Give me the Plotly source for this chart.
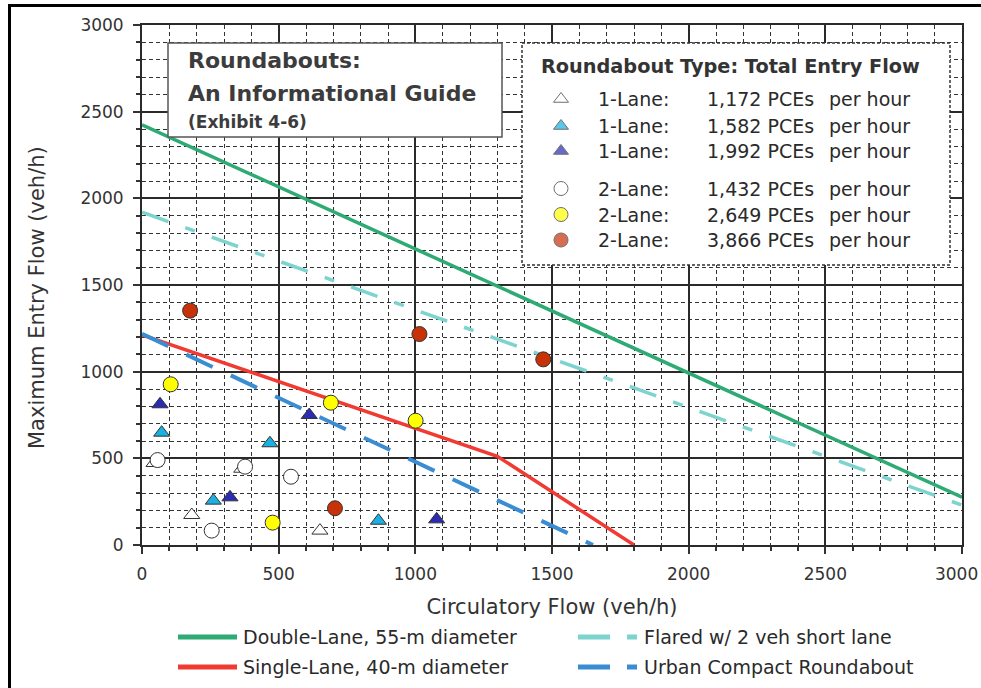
import plotly.graph_objects as go

# ---------------- data ----------------
circ_double = [0, 3000]
entry_double = [2424, 276]
circ_flared = [0, 3000]
entry_flared = [1920, 230]
circ_single = [0, 1300, 1800]
entry_single = [1212, 512, 0]
circ_urban = [0, 1650]
entry_urban = [1218, 0]

line_names = ["Double-Lane, 55-m diameter", "Flared w/ 2 veh short lane",
              "Single-Lane, 40-m diameter", "Urban Compact Roundabout"]

lane1_1172_x = [44, 182, 365, 651]
lane1_1172_y = [473, 173, 440, 83]
lane1_1582_x = [72, 261, 468, 865]
lane1_1582_y = [648, 256, 587, 140]
lane1_1992_x = [66, 322, 612, 1078]
lane1_1992_y = [812, 275, 750, 148]
lane2_1432_x = [57, 255, 377, 545]
lane2_1432_y = [490, 83, 452, 394]
lane2_2649_x = [105, 478, 691, 1001]
lane2_2649_y = [927, 129, 821, 717]
lane2_3866_x = [176, 706, 1015, 1468]
lane2_3866_y = [1352, 212, 1217, 1071]

legend_lane = ["1-Lane:", "1-Lane:", "1-Lane:", "2-Lane:", "2-Lane:", "2-Lane:"]
legend_pce = ["1,172 PCEs", "1,582 PCEs", "1,992 PCEs", "1,432 PCEs", "2,649 PCEs", "3,866 PCEs"]

x_ticks = [0, 500, 1000, 1500, 2000, 2500, 3000]
x_tick_text = ["0", "500", "1000", "1500", "2000", "2500", "3000\u00a0\u00a0"]
y_ticks = [0, 500, 1000, 1500, 2000, 2500, 3000]

# ---------------- styling ----------------
FONT = "DejaVu Sans"
W, H = 981, 688
L, R, T, B = 142, 19, 25, 143
PW, PH = W - L - R, H - T - B


def pxp(x):
    return (x - L) / PW


def pyp(y):
    return (H - B - y) / PH


C_GREEN = "#2EAA74"
C_CYANL = "#7DD3CD"
C_RED = "#F03A32"
C_BLUE = "#3A8CD3"
DASH_FLARED = "28px,18px,10px,18px"
DASH_URBAN = "29px,20px"

fig = go.Figure()

fig.add_trace(go.Scatter(x=circ_double, y=entry_double, mode="lines",
                         line=dict(color=C_GREEN, width=3.5), name=line_names[0], showlegend=False))
fig.add_trace(go.Scatter(x=circ_flared, y=entry_flared, mode="lines",
                         line=dict(color=C_CYANL, width=3.5, dash=DASH_FLARED), name=line_names[1], showlegend=False))
fig.add_trace(go.Scatter(x=circ_single, y=entry_single, mode="lines",
                         line=dict(color=C_RED, width=3.5), name=line_names[2], showlegend=False))
fig.add_trace(go.Scatter(x=circ_urban, y=entry_urban, mode="lines",
                         line=dict(color=C_BLUE, width=4, dash=DASH_URBAN), name=line_names[3], showlegend=False))

series = [
    (lane1_1172_x, lane1_1172_y, "triangle-up", "#FFFFFF", 14),
    (lane1_1582_x, lane1_1582_y, "triangle-up", "#1AB0E2", 14),
    (lane1_1992_x, lane1_1992_y, "triangle-up", "#2B2BB3", 14),
    (lane2_1432_x, lane2_1432_y, "circle", "#FFFFFF", 15),
    (lane2_2649_x, lane2_2649_y, "circle", "#FFFF00", 15),
    (lane2_3866_x, lane2_3866_y, "circle", "#C83208", 15),
]
for i, (xs, ys, sym, col, sz) in enumerate(series):
    fig.add_trace(go.Scatter(x=xs, y=ys, mode="markers",
                             name=legend_lane[i] + " " + legend_pce[i],
                             marker=dict(symbol=sym, size=sz, color=col,
                                         line=dict(color="#333333", width=1)),
                             showlegend=False))


# ---- boxes drawn on overlay axes (fraction of plot area) so they hide the grid ----
def box_trace(x0, x1, y0, y1, line):
    xs = [pxp(x0), pxp(x1), pxp(x1), pxp(x0), pxp(x0)]
    ys = [pyp(y0), pyp(y0), pyp(y1), pyp(y1), pyp(y0)]
    return go.Scatter(x=xs, y=ys, xaxis="x2", yaxis="y2", mode="lines", fill="toself",
                      fillcolor="white", line=line, showlegend=False, hoverinfo="skip")


fig.add_trace(box_trace(168, 502, 137, 43, dict(color="#555555", width=1.5)))
fig.add_trace(box_trace(522, 950, 265, 43, dict(color="#333333", width=1.5, dash="3px,2px")))

# legend glyphs inside the key box
row_py = [99, 126, 151, 188.5, 214.5, 240]
fig.add_trace(go.Scatter(
    x=[pxp(561)] * 6, y=[pyp(v) for v in row_py], xaxis="x2", yaxis="y2",
    mode="markers", showlegend=False, hoverinfo="skip", cliponaxis=False,
    marker=dict(symbol=[s[2] for s in series], color=[s[3] for s in series],
                size=[s[4] - 1 for s in series], line=dict(color="#333333", width=1))))

shapes = []
annotations = []

# outer frame (top and left)
shapes.append(dict(type="line", xref="paper", yref="paper", x0=pxp(8), x1=pxp(981),
                   y0=pyp(5.5), y1=pyp(5.5), line=dict(color="black", width=3)))
shapes.append(dict(type="line", xref="paper", yref="paper", x0=pxp(9.5), x1=pxp(9.5),
                   y0=pyp(4), y1=pyp(688), line=dict(color="black", width=3)))

TXT = "#2a2a2a"
annotations.append(dict(text="<b>Roundabouts:</b>", x=pxp(186), y=pyp(61), xref="paper", yref="paper",
                        xanchor="left", yanchor="middle", showarrow=False,
                        font=dict(family=FONT, size=22, color="#3c3c3c")))
annotations.append(dict(text="<b>An Informational Guide</b>", x=pxp(186), y=pyp(93.5), xref="paper", yref="paper",
                        xanchor="left", yanchor="middle", showarrow=False,
                        font=dict(family=FONT, size=22, color="#3c3c3c")))
annotations.append(dict(text="<b>(Exhibit 4-6)</b>", x=pxp(186), y=pyp(121.5), xref="paper", yref="paper",
                        xanchor="left", yanchor="middle", showarrow=False,
                        font=dict(family=FONT, size=17, color="#3c3c3c")))

annotations.append(dict(text="<b>Roundabout Type: Total Entry Flow</b>", x=pxp(539), y=pyp(66),
                        xref="paper", yref="paper", xanchor="left", yanchor="middle", showarrow=False,
                        font=dict(family=FONT, size=19.3, color="#333333")))
for i, yy in enumerate(row_py):
    for txt, xx in ((legend_lane[i], 596), (legend_pce[i], 705), ("per hour", 827)):
        annotations.append(dict(text=txt, x=pxp(xx), y=pyp(yy), xref="paper", yref="paper",
                                xanchor="left", yanchor="middle", showarrow=False,
                                font=dict(family=FONT, size=19, color=TXT)))

# bottom key for the lines
key_rows = [(C_GREEN, None, 178, 637, line_names[0]), (C_CYANL, "dash", 578, 637, line_names[1]),
            (C_RED, None, 178, 667, line_names[2]), (C_BLUE, "dash", 578, 667, line_names[3])]
for col, kind, x0, yy, name in key_rows:
    if kind is None:
        shapes.append(dict(type="line", xref="paper", yref="paper", x0=pxp(x0), x1=pxp(x0 + 59),
                           y0=pyp(yy), y1=pyp(yy), line=dict(color=col, width=5)))
        tx = x0 + 63
    else:
        shapes.append(dict(type="line", xref="paper", yref="paper", x0=pxp(x0), x1=pxp(x0 + 32),
                           y0=pyp(yy), y1=pyp(yy), line=dict(color=col, width=5)))
        shapes.append(dict(type="line", xref="paper", yref="paper", x0=pxp(x0 + 49), x1=pxp(x0 + 59),
                           y0=pyp(yy), y1=pyp(yy), line=dict(color=col, width=5)))
        tx = x0 + 64
    annotations.append(dict(text=name, x=pxp(tx), y=pyp(yy), xref="paper", yref="paper",
                            xanchor="left", yanchor="middle", showarrow=False,
                            font=dict(family=FONT, size=19, color=TXT)))

# y axis title
annotations.append(dict(text="Maximum Entry Flow (veh/h)", x=pxp(37), y=pyp(298), xref="paper", yref="paper",
                        xanchor="center", yanchor="middle", textangle=-90, showarrow=False,
                        font=dict(family=FONT, size=21, color="#333333")))

axis_common = dict(
    showgrid=True, gridcolor="#2a2a2a", gridwidth=1.8,
    ticks="outside", ticklen=7, tickwidth=1.5, tickcolor="#333333",
    showline=True, linecolor="#2a2a2a", linewidth=1.8, mirror=True, zeroline=False,
    tickfont=dict(family=FONT, size=17, color="#333333"),
    ticklabeloverflow="allow",
    minor=dict(dtick=100, showgrid=True, gridcolor="#333333", gridwidth=1, griddash="4px,3px",
               ticks="outside", ticklen=4, tickcolor="#333333"),
)

fig.update_layout(
    width=W, height=H, margin=dict(l=L, r=R, t=T, b=B, autoexpand=False),
    paper_bgcolor="white", plot_bgcolor="white",
    font=dict(family=FONT, color="#333333"),
    xaxis=dict(range=[0, 3000], tickvals=x_ticks, ticktext=x_tick_text, ticklabelstandoff=6,
               title=dict(text="Circulatory Flow (veh/h)", font=dict(family=FONT, size=21, color="#333333"),
                          standoff=16), **axis_common),
    yaxis=dict(range=[0, 3000], tickvals=y_ticks, ticklabelstandoff=6, **axis_common),
    xaxis2=dict(domain=[0, 1], range=[0, 1], overlaying="x", anchor="y2", visible=False, fixedrange=True),
    yaxis2=dict(domain=[0, 1], range=[0, 1], overlaying="y", anchor="x2", visible=False, fixedrange=True),
    shapes=shapes, annotations=annotations, showlegend=False,
)

fig.write_html("out.html")
